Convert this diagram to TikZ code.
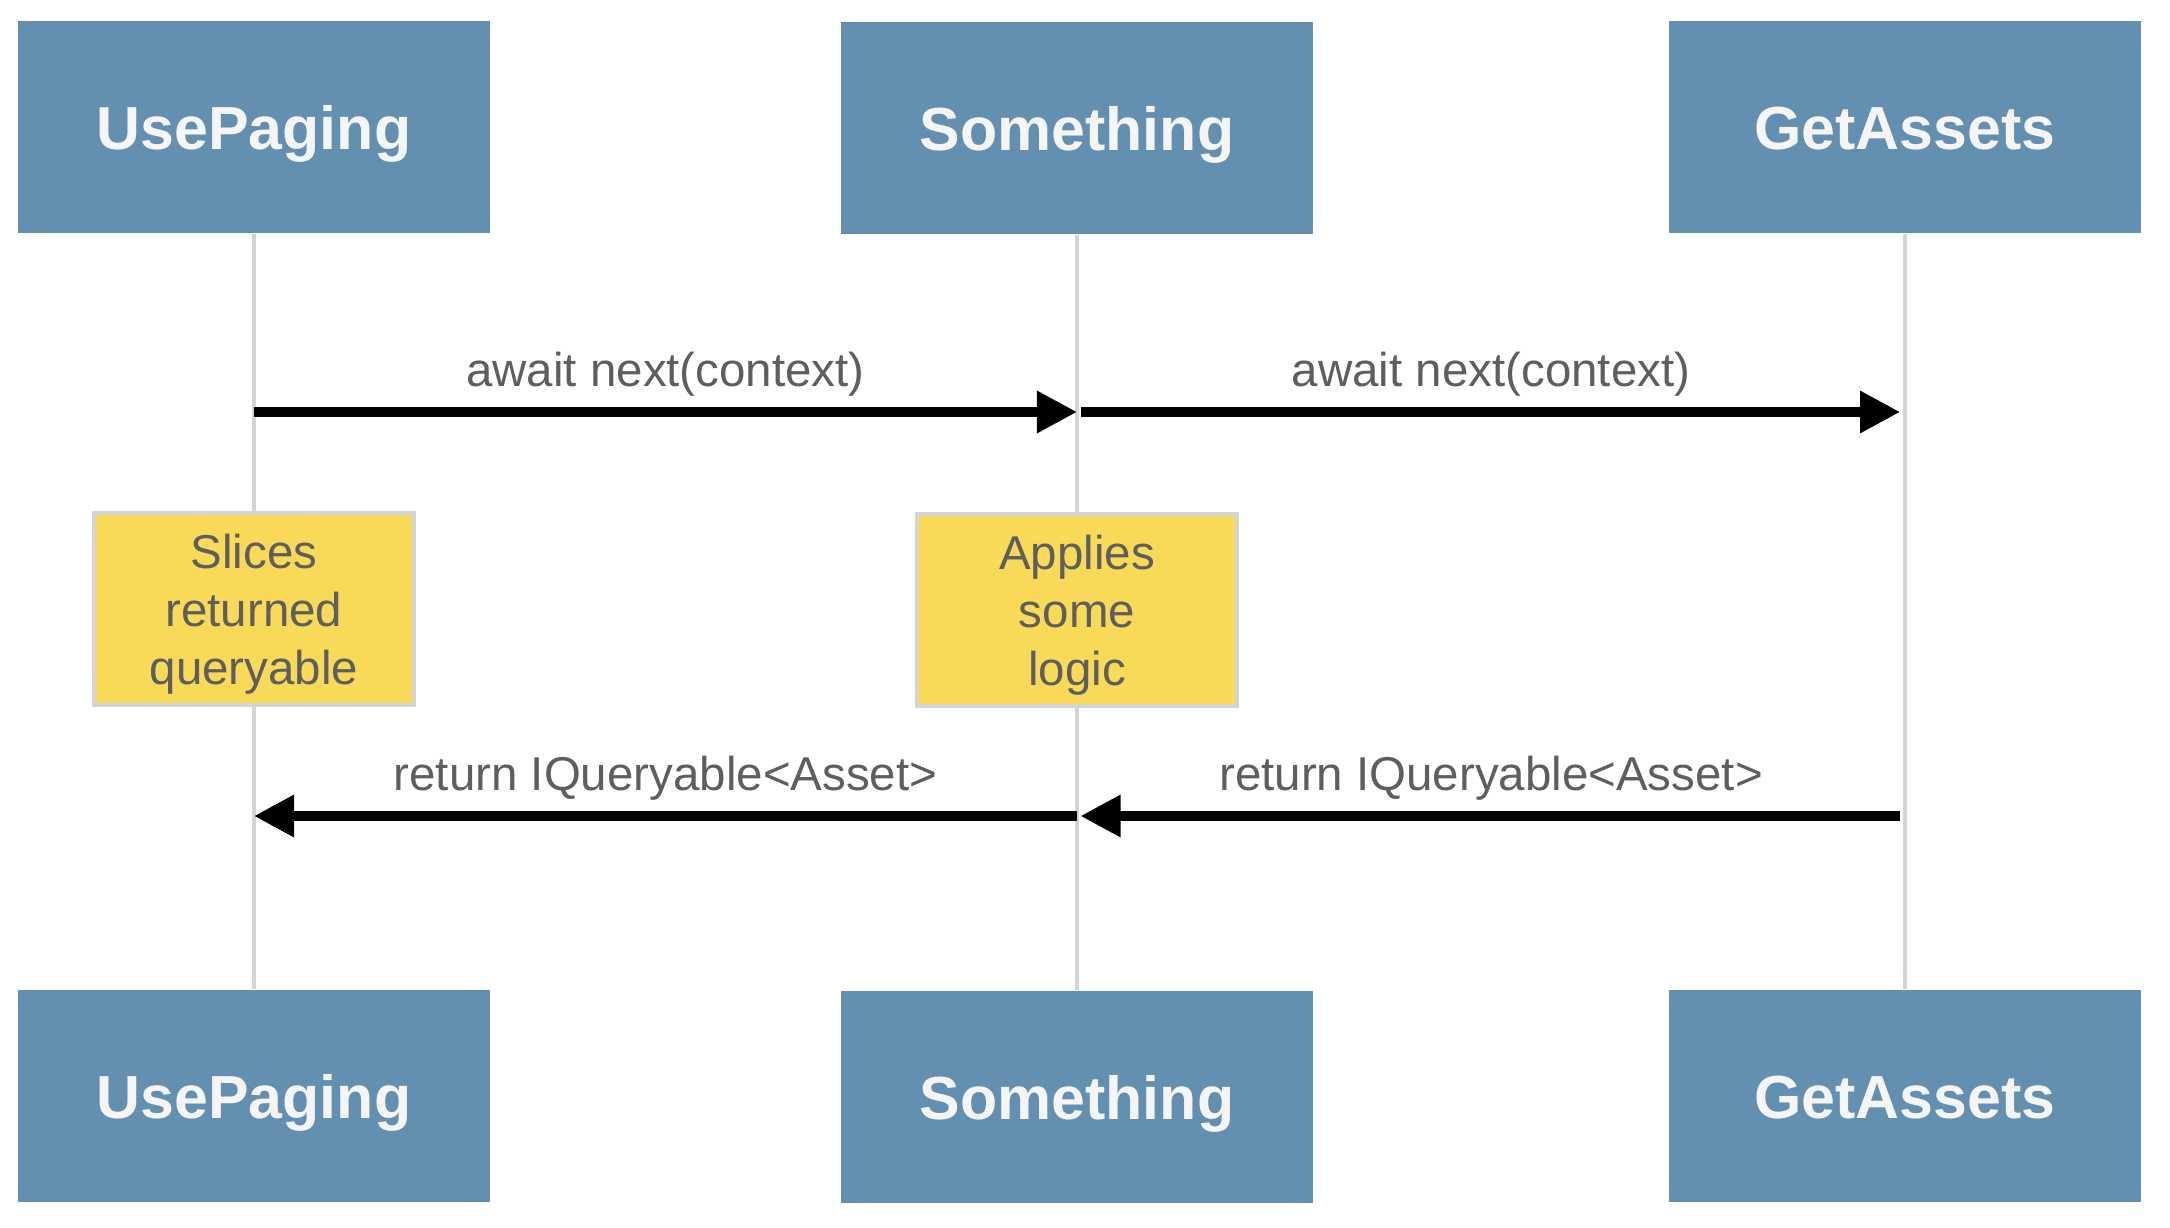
\documentclass[tikz,border=0pt]{standalone}
\usepackage{fontspec}
\setmainfont{Liberation Sans}
\usetikzlibrary{arrows.meta}

\definecolor{actorblue}{RGB}{99,144,176}
\definecolor{noteyellow}{RGB}{248,218,88}
\definecolor{lifegray}{RGB}{212,212,212}
\definecolor{textgray}{RGB}{94,94,94}

\tikzset{
	actor/.style={fill=actorblue, text=white!96!black, font=\fontsize{17.3}{20}\selectfont\bfseries,
		minimum width=4.72cm, minimum height=2.12cm, inner sep=0pt, text height=0.44cm, text depth=0pt},
	note/.style={fill=noteyellow, draw=lifegray, line width=1.05pt, text=textgray, align=center,
		font=\fontsize{13.5}{16.5}\selectfont, minimum width=3.2cm, minimum height=1.92cm, inner sep=0pt,
		text depth=0pt},
	lifeline/.style={draw=lifegray, line width=1.1pt},
	msg/.style={line width=2.65pt, -{Triangle[length=0.4cm, width=0.4cm]}},
	lbl/.style={text=textgray, font=\fontsize{13.5}{16}\selectfont, inner sep=0pt, above=0.11cm}
}

\begin{document}
\begin{tikzpicture}[x=0.01cm, y=-0.01cm]
	\useasboundingbox (0,0) rectangle (2170,1228);
		\node[actor] (up-top) at (254,127) {UsePaging};
		\node[actor] (so-top) at (1077,128) {Something};
		\node[actor] (ga-top) at (1905,127) {GetAssets};
		\node[actor] (up-bot) at (254,1096) {UsePaging};
		\node[actor] (so-bot) at (1077,1097) {Something};
		\node[actor] (ga-bot) at (1905,1096) {GetAssets};
		\draw[lifeline] (up-top) -- (up-bot);
		\draw[lifeline] (so-top) -- (so-bot);
		\draw[lifeline] (ga-top) -- (ga-bot);
		\node[note] (slices) at (254,609) {Slices\\returned\\queryable};
		\node[note] (applies) at (1077,610) {Applies\\some\\logic};
		\coordinate (up-call) at (up-top |- 0,412);
		\coordinate (so-call) at (so-top |- 0,412);
		\coordinate (ga-call) at (ga-top |- 0,412);
		\coordinate (up-ret) at (up-top |- 0,816);
		\coordinate (so-ret) at (so-top |- 0,816);
		\coordinate (ga-ret) at (ga-top |- 0,816);
		\draw[msg] (up-call) -- node[lbl] {await next(context)} (so-call);
		\draw[msg, shorten <=1pt, shorten >=1.4pt] (so-call) -- node[lbl] {await next(context)} (ga-call);
		\draw[msg, shorten <=1.4pt, shorten >=1pt] (ga-ret) -- node[lbl] {return IQueryable<Asset>} (so-ret);
		\draw[msg] (so-ret) -- node[lbl] {return IQueryable<Asset>} (up-ret);
	\end{tikzpicture}
\end{document}
